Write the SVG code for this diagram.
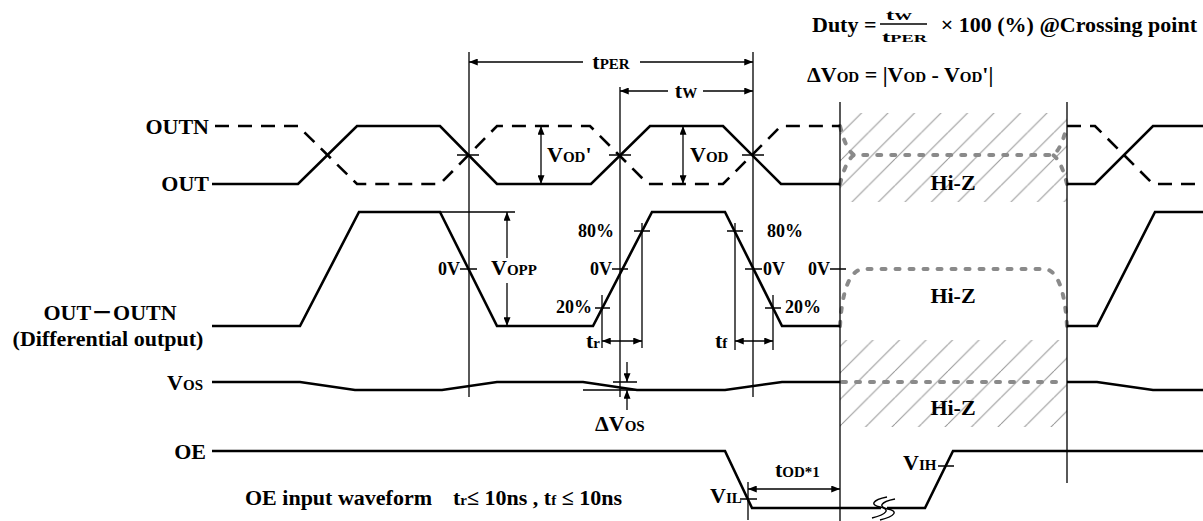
<svg xmlns="http://www.w3.org/2000/svg" width="1203" height="521" viewBox="0 0 1203 521">
<defs>
<style>
.t{font-family:"Liberation Serif","Noto Sans CJK JP",serif;font-weight:bold;font-size:22px;fill:#000}
.s{font-size:15px}
.p{font-size:18px}
.f15{font-size:15px}
.f11{font-size:11px}
.sig{fill:none;stroke:#000;stroke-width:2.6;stroke-linejoin:miter}
.dash{stroke-dasharray:14 9}
.ref{fill:none;stroke:#000;stroke-width:1.3}
.arr{fill:none;stroke:#000;stroke-width:1.3;marker-end:url(#ah)}
.arr2{fill:none;stroke:#000;stroke-width:1.3;marker-start:url(#ah);marker-end:url(#ah)}
.hz{fill:none;stroke:#8a8a8a;stroke-width:4;stroke-dasharray:4 10;stroke-linecap:round}
</style>
<marker id="ah" viewBox="0 0 10 8" refX="10" refY="4" markerWidth="10" markerHeight="7" markerUnits="userSpaceOnUse" orient="auto-start-reverse">
<path d="M0,0 L10,4 L0,8 z" fill="#000"/>
</marker>
<pattern id="hatch" patternUnits="userSpaceOnUse" x="20.5" y="0" width="26.5" height="26.5">
<path d="M-26.5,26.5 L0,0 M0,26.5 L26.5,0 M26.5,26.5 L53,0" stroke="#9a9a9a" stroke-width="1.1"/>
</pattern>
</defs>
<rect width="1203" height="521" fill="#fff"/>

<g id="hiz">
<rect x="840" y="113" width="227" height="89" fill="url(#hatch)"/>
<rect x="840" y="340" width="227" height="87" fill="url(#hatch)"/>
<path class="hz" d="M840,126 Q846,150 854,155 L1053,155 Q1061,150 1067,126"/>
<path class="hz" d="M840,184 Q846,160 854,155 M1067,184 Q1061,160 1053,155"/>
<path class="hz" d="M840,326 C842,290 850,269 864,269 L1044,269 C1057,269 1065,290 1067,326"/>
<path class="hz" d="M842,382 L1066,382"/>
<text class="t" x="953" y="190" text-anchor="middle">Hi-Z</text>
<text class="t" x="953" y="303" text-anchor="middle">Hi-Z</text>
<text class="t" x="953" y="415" text-anchor="middle">Hi-Z</text>
</g>

<g id="outn">
<text class="t" x="209" y="134" text-anchor="end">OUTN</text>
<path class="sig dash" d="M215,126 L298,126 L357,184 L440,184 L497,126 L590,126 L648,184 L723,184 L781,126 L840,126"/>
<path class="sig dash" d="M1067,126 L1095,126 L1153,184 L1203,184"/>
</g>

<g id="out">
<text class="t" x="209" y="191" text-anchor="end">OUT</text>
<path class="sig" d="M212,184 L298,184 L357,126 L440,126 L497,184 L591,184 L650,126 L723,126 L781,184 L840,184"/>
<path class="sig" d="M1067,184 L1095,184 L1153,126 L1203,126"/>
</g>

<g id="diff">
<text class="t" x="110" y="320" text-anchor="middle">OUT－OUTN</text>
<text class="t" x="108" y="346" text-anchor="middle">(Differential output)</text>
<path class="sig" d="M212,326 L300,326 L359,212 L440,212 L497,326 L593,326 L652,212 L725,212 L782,326 L840,326"/>
<path class="sig" d="M1067,326 L1097,326 L1155,212 L1203,212"/>
<text class="t p" x="460" y="275" text-anchor="end">0V</text>
<text class="t p" x="612" y="275" text-anchor="end">0V</text>
<text class="t p" x="763" y="275">0V</text>
<text class="t p" x="830" y="275" text-anchor="end">0V</text>
<text class="t p" x="614" y="237" text-anchor="end">80%</text>
<text class="t p" x="767" y="237">80%</text>
<text class="t p" x="592" y="313" text-anchor="end">20%</text>
<text class="t p" x="785" y="313">20%</text>
</g>

<g id="vos">
<text class="t" x="203" y="390" text-anchor="end">V<tspan class="s">OS</tspan></text>
<path class="sig" d="M212,382 L300,382 L355,390 L442,390 L497,382 L583,382 L637,390 L725,390 L782,382 L840,382"/>
<path class="sig" d="M1067,382 L1097,382 L1153,390 L1203,390"/>
</g>

<g id="oe">
<text class="t" x="206" y="459" text-anchor="end">OE</text>
<path class="sig" d="M212,451 L725,451 L752,508 L925,508 L953,451 L1203,451"/>
<path d="M881,508 L887,508" stroke="#fff" stroke-width="4"/>
<path d="M887,497 C872,500 870,505 880,507 C890,509 888,514 872,518" fill="none" stroke="#000" stroke-width="1.4"/>
<path d="M895,499 C880,502 878,507 888,509 C898,511 896,516 880,520" fill="none" stroke="#000" stroke-width="1.4"/>
<text class="t" x="245" y="505">OE input waveform</text>
<text class="t" x="453" y="505">t<tspan class="s">r</tspan>≤ 10ns , t<tspan class="s">f</tspan> ≤ 10ns</text>
</g>

<g id="formula">
<text class="t" x="812" y="32">Duty =</text>
<text class="t f15" x="899" y="20" text-anchor="middle" textLength="26" lengthAdjust="spacingAndGlyphs">t<tspan class="f11">W</tspan></text>
<path class="ref" d="M880,24 L927,24" stroke-width="1.6"/>
<text class="t f15" x="904.5" y="42" text-anchor="middle" textLength="45" lengthAdjust="spacingAndGlyphs">t<tspan class="f11">PER</tspan></text>
<text class="t" x="1197" y="32" text-anchor="end">× 100 (%) @Crossing point</text>
<text class="t" x="807" y="82">ΔV<tspan class="s">OD</tspan> = |V<tspan class="s">OD</tspan> - V<tspan class="s">OD</tspan>'|</text>
</g>

<g id="connectors">
<path class="ref" d="M469,52 L469,397 M620,87 L620,397 M753,52 L753,397 M840,102 L840,521 M1067,102 L1067,483"/>
<path class="ref" d="M457,155 L479,155 M609,155 L631,155 M742,155 L764,155"/>
<path class="ref" d="M460,269 L477,269 M612,269 L628,269 M745,269 L762,269 M830,269 L846,269"/>
<path class="ref" d="M634,231 L650,231 M727,231 L743,231 M595,308 L610,308 M765,308 L781,308"/>
<path class="ref" d="M602,295 L602,348 M642,223 L642,348 M735,223 L735,350 M773,295 L773,350"/>
<path class="ref" d="M440,212 L515,212"/>
<path class="ref" d="M613,382 L637,382 M583,390 L640,390"/>
<path class="ref" d="M740,499 L757,499 M748,482 L748,520 M938,466 L954,466"/>
<path class="arr" d="M583,62 L469,62"/>
<path class="arr" d="M640,62 L753,62"/>
<path class="arr" d="M668,91 L620,91"/>
<path class="arr" d="M703,91 L753,91"/>
<path class="arr2" d="M541,126 L541,184"/>
<path class="arr2" d="M683,126 L683,184"/>
<path class="arr" d="M507,258 L507,212"/>
<path class="arr" d="M507,283 L507,326"/>
<path class="arr2" d="M602,341 L642,341"/>
<path class="arr2" d="M735,341 L773,341"/>
<path class="arr" d="M627,362 L627,382"/>
<path class="arr" d="M627,410 L627,390"/>
<path class="arr2" d="M748,489 L840,489"/>
<text class="t" x="611" y="69" text-anchor="middle">t<tspan class="s">PER</tspan></text>
<text class="t" x="686" y="98" text-anchor="middle">t<tspan class="s">W</tspan></text>
<text class="t" x="547" y="162">V<tspan class="s">OD</tspan>'</text>
<text class="t" x="690" y="162">V<tspan class="s">OD</tspan></text>
<text class="t" x="491" y="275">V<tspan class="s">OPP</tspan></text>
<text class="t" x="586" y="348">t<tspan class="s">r</tspan></text>
<text class="t" x="715" y="348">t<tspan class="s">f</tspan></text>
<text class="t" x="595" y="431">ΔV<tspan class="s">OS</tspan></text>
<text class="t" x="775" y="477">t<tspan class="s">OD*1</tspan></text>
<text class="t" x="710" y="503">V<tspan class="s">IL</tspan></text>
<text class="t" x="903" y="470">V<tspan class="s">IH</tspan></text>
</g>
</svg>
